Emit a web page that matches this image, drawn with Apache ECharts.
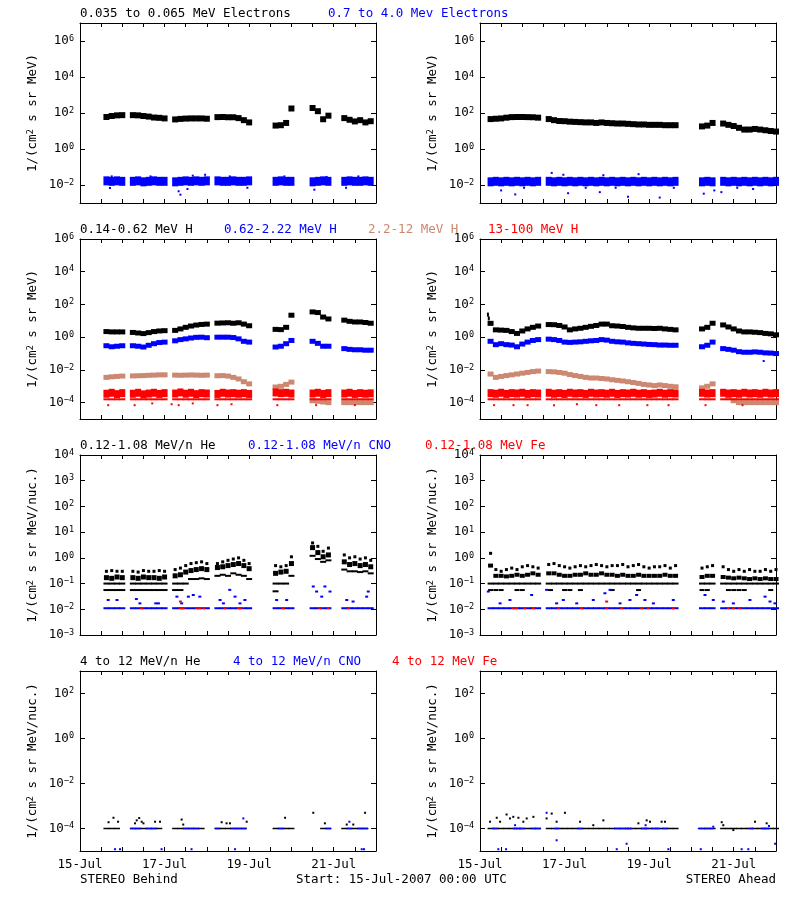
<!DOCTYPE html>
<html><head><meta charset="utf-8">
<script src="https://cdn.jsdelivr.net/npm/echarts@6/dist/echarts.min.js"></script>
<style>html,body{margin:0;padding:0;background:#fff}#c{width:800px;height:900px}</style>
</head><body><div id="c"></div><script>
const _ = null;
const f3 = 0.011;   // CNO one-count floor, row 3
const f4 = 0.0001;  // one-count floor, row 4

// time grid (hours since 15-Jul-2007 00:00), 3-hour samples
const hours = [0,3,6,9,12,15,18,21,24,27,30,33,36,39,42,45,48,51,54,57,60,63,66,69,72,75,78,81,84,87,90,93,96,99,102,105,108,111,114,117,120,123,126,129,132,135,138,141,144,147,150,153,156,159,162,165,168];

// x tick labels
const xLabelHours = [0,48,96,144];
const xLabelText = ['15-Jul','17-Jul','19-Jul','21-Jul'];

// y ranges and labelled decades per row
const yMin = [1e-3, 1e-5, 1e-3, 1e-5];
const yMax = [1e7, 1e6, 1e4, 1e3];
const yTickVals = [
  [1e-2,1,1e2,1e4,1e6],
  [1e-4,1e-2,1,1e2,1e4,1e6],
  [1e-3,1e-2,1e-1,1,10,100,1e3,1e4],
  [1e-4,1e-2,1,1e2]
];

// panel titles
const titleTexts = [
  ['0.035 to 0.065 MeV Electrons','0.7 to 4.0 Mev Electrons'],
  ['0.14-0.62 MeV H','0.62-2.22 MeV H','2.2-12 MeV H','13-100 MeV H'],
  ['0.12-1.08 MeV/n He','0.12-1.08 MeV/n CNO','0.12-1.08 MeV Fe'],
  ['4 to 12 MeV/n He','4 to 12 MeV/n CNO','4 to 12 MeV Fe']
];
const yTitleTexts = ['1/(cm{s|2} s sr MeV)','1/(cm{s|2} s sr MeV)','1/(cm{s|2} s sr MeV/nuc.)','1/(cm{s|2} s sr MeV/nuc.)'];
const footLeft = 'STEREO Behind', footMid = 'Start: 15-Jul-2007 00:00 UTC', footRight = 'STEREO Ahead';

// ---------- ROW 1: electrons ----------
const eLoB = [_,_,_,_,_,60,68,74,76,_, 76,74,68,63,56,54,50,_,44,47, 49,50,50,50,48,_,59,60,58,58, 52,40,30,_,_,_,_,20,21,28, 178,_,_,_,190,126,45,71,_,_, 52,42,34,40,30,35,_];
const eHiB = [_,_,_,_,_,0.017,0.016,0.017,0.016,_, 0.016,0.017,0.015,0.016,0.017,0.016,0.016,_,0.015,0.016, 0.017,0.016,0.017,0.016,0.017,_,0.017,0.016,0.016,0.017, 0.016,0.016,0.017,_,_,_,_,0.016,0.017,0.016, 0.016,_,_,_,0.015,0.016,0.017,0.016,_,_, 0.016,0.017,0.016,0.016,0.017,0.016,_];
const eHiBOut = [[17,0.0068],[56,0.0045],[57,0.0029],[61,0.006],[95,0.007],[133,0.0055],[151,0.007],[71,0.037],[18,0.03],[40,0.03],[64,0.033],[85,0.03],[116,0.03],[140,0.028],[158,0.03]];
const eLoA = [_,_,46,48,50,55,59,60,60,59, 58,55,_,46,40,36,35,33,32,31, 30,30,28,30,28,27,26,26,25,24, 23,23,22,22,22,21,21,21,_,_, _,_,18,20,28,_,26,22,19,15, 12,12,13,12,11,10,9.3];
const eHiA = [_,_,0.015,0.016,0.015,0.016,0.015,0.016,0.015,0.016, 0.015,0.016,_,0.016,0.015,0.016,0.015,0.016,0.015,0.016, 0.015,0.016,0.015,0.016,0.015,0.016,0.015,0.016,0.015,0.016, 0.015,0.016,0.015,0.016,0.015,0.016,0.015,0.016,_,_, _,_,0.015,0.016,0.015,_,0.016,0.015,0.016,0.015, 0.016,0.015,0.016,0.015,0.016,0.015,0.016];
const eHiAOut = [[12,0.005],[20,0.003],[50,0.0035],[68,0.004],[84,0.0022],[102,0.002],[127,0.0033],[133,0.005],[137,0.004],[155,0.006],[40.7,0.047],[47.3,0.037],[70,0.035],[90,0.04],[25,0.007],[60,0.007],[77,0.007],[110,0.007],[146,0.007]];

// ---------- ROW 2: protons ----------
const hLoB = [_,_,_,_,_,2.2,2.1,2.1,2.1,_, 1.95,1.8,1.66,1.9,2.2,2.4,2.5,_,2.6,3.2, 4.0,4.8,5.5,6.0,6.3,_,7.2,7.4,7.6,7.1, 7.6,6.3,5.0,_,_,_,_,3.0,2.9,4.0, 22,_,_,_,35,32,17,13,_,_, 11,9.3,8.5,8.5,7.9,7.1,_];
const hMidB = [_,_,_,_,_,0.30,0.26,0.28,0.30,_, 0.30,0.28,0.25,0.32,0.40,0.47,0.50,_,0.60,0.71, 0.79,0.89,0.98,1.0,0.93,_,1.0,1.0,1.0,0.95, 0.79,0.56,0.50,_,_,_,_,0.25,0.28,0.40, 0.63,_,_,_,0.56,0.42,0.28,0.28,_,_, 0.20,0.18,0.17,0.17,0.16,0.16,_];
const hHiB = [_,_,_,_,_,0.0035,0.0038,0.0040,0.0042,_, 0.0043,0.0044,0.0045,0.0047,0.0048,0.0050,0.0050,_,0.0048,0.0047, 0.0048,0.0049,0.0048,0.0047,0.0048,_,0.0044,0.0045,0.0042,0.0035, 0.0028,0.0019,0.0014,_,_,_,_,0.0009,0.0010,0.0013, 0.0018,_,_,_,0.00013,0.00012,0.00011,0.0001,_,_, 0.0001,0.0001,0.0001,0.0001,0.0001,0.0001,_];
const hTopB = [_,_,_,_,_,0.00035,0.0004,0.00033,0.00038,_, 0.00035,0.0004,0.00032,0.00036,0.0004,0.00034,0.00038,_,0.00036,0.00042, 0.00035,0.0004,0.00033,0.00038,0.00036,_,0.00034,0.0004,0.00036,0.00038, 0.00035,0.00038,0.00034,_,_,_,_,0.00042,0.00038,0.0004, 0.00036,_,_,_,0.00036,0.0004,0.00034,0.00038,_,_, 0.00036,0.0004,0.00034,0.00038,0.00035,0.00037,_];
const hTopB2 = [_,_,_,_,_,0.00016,0.00016,0.00016,0.00016,_, 0.00016,0.00016,0.00016,0.00016,0.00016,0.00016,0.00016,_,0.00016,0.00016, 0.00016,0.00016,0.00016,0.00016,0.00016,_,0.00016,0.00016,0.00016,0.00016, 0.00016,0.00016,0.00016,_,_,_,_,0.00016,0.00016,0.00016, 0.00016,_,_,_,0.00016,0.00016,0.00016,0.00016,_,_, 0.00016,0.00016,0.00016,0.00016,0.00016,0.00016,_];
const hTopBOut = [[16,7e-5],[31,7e-5],[41,9e-5],[52,8e-5],[56,7e-5],[64,9e-5],[78,7e-5],[86,8e-5],[112,7e-5],[134,7e-5],[156,7e-5]];

const hLoA = [_,_,7.0,2.8,2.7,2.6,2.2,1.7,2.4,3.2, 4.0,4.8,_,5.9,5.8,5.2,4.2,2.8,3.2,3.5, 4.0,4.6,5.2,6.3,6.3,5.0,4.8,4.5,4.0,3.7, 3.5,3.5,3.5,3.4,3.5,3.2,3.0,2.8,_,_, _,_,3.2,4.0,7.1,_,5.6,4.2,3.2,2.4, 2.1,2.1,2.0,1.9,1.7,1.6,1.4];
const hLoAOut = [[4.5,24],[5,14]];
const hMidA = [_,_,0.56,0.35,0.40,0.35,0.33,0.26,0.38,0.50, 0.63,0.71,_,0.76,0.71,0.63,0.50,0.48,0.50,0.52, 0.56,0.60,0.63,0.71,0.66,0.56,0.52,0.50,0.45,0.42, 0.40,0.38,0.36,0.35,0.33,0.33,0.32,0.32,_,_, _,_,0.26,0.32,0.50,_,0.20,0.18,0.16,0.13, 0.12,0.12,0.126,0.12,0.11,0.107,0.10];
const hMidAOut = [[161,0.035]];
const hHiA = [_,_,0.0056,0.0035,0.0040,0.0045,0.0050,0.0056,0.0063,0.0070, 0.0079,0.0085,_,0.0079,0.0076,0.0070,0.0063,0.0052,0.0045,0.0040, 0.0035,0.0032,0.0032,0.0030,0.0028,0.0025,0.0023,0.0021,0.0019,0.0017, 0.0015,0.0013,0.0012,0.0011,0.0012,0.0011,0.0010,0.00093,_,_, _,_,0.0008,0.0010,0.0014,_,0.00045,0.00025,0.00013,0.0001, 0.0001,0.0001,0.0001,0.0001,0.0001,0.0001,0.0001];
const hTopA = [_,_,0.00038,0.00035,0.0004,0.00034,0.00038,0.00036,0.0004,0.00034, 0.00038,0.00036,_,0.0004,0.00035,0.00038,0.00034,0.0004,0.00036,0.00038, 0.00034,0.0004,0.00036,0.00038,0.00035,0.0004,0.00034,0.00038,0.00036,0.0004, 0.00035,0.00038,0.00034,0.00036,0.0004,0.00035,0.00038,0.00036,_,_, _,_,0.0004,0.00036,0.00038,_,0.0004,0.00036,0.00038,0.00035, 0.0004,0.00036,0.00038,0.00035,0.0004,0.00036,0.00038];
const hTopA2 = [_,_,0.00016,0.00016,0.00016,0.00016,0.00016,0.00016,0.00016,0.00016, 0.00016,0.00016,_,0.00016,0.00016,0.00016,0.00016,0.00016,0.00016,0.00016, 0.00016,0.00016,0.00016,0.00016,0.00016,0.00016,0.00016,0.00016,0.00016,0.00016, 0.00016,0.00016,0.00016,0.00016,0.00016,0.00016,0.00016,0.00016,_,_, _,_,0.00016,0.00016,0.00016,_,0.00016,0.00016,0.00016,0.00016, 0.00016,0.00016,0.00016,0.00016,0.00016,0.00016,0.00016];
const hTopAOut = [[8,7e-5],[19,7e-5],[27,7e-5],[42,7e-5],[55,8e-5],[66,7e-5],[79,7e-5],[95,7e-5],[107,7e-5],[128,7e-5],[149,7e-5]];

// ---------- ROW 3: suprathermal ions ----------
const heBHi = [_,_,_,_,_,0.30,0.32,0.30,0.30,_, 0.30,0.28,0.32,0.30,0.30,0.32,0.30,_,0.35,0.40, 0.50,0.60,0.65,0.70,0.60,_,0.60,0.70,0.80,0.90, 1.00,0.80,0.60,_,_,_,_,0.50,0.45,0.50, 1.10,_,_,_,3.8,2.8,1.8,2.4,_,_, 1.30,1.00,1.10,0.90,1.00,0.80,_];
const heBMid = [_,_,_,_,_,0.17,0.16,0.18,0.17,_, 0.17,0.16,0.18,0.17,0.17,0.16,0.18,_,0.20,0.22, 0.28,0.32,0.35,0.38,0.35,_,0.42,0.45,0.50,0.55, 0.60,0.50,0.38,_,_,_,_,0.25,0.28,0.30, 0.60,_,_,_,2.5,1.6,1.1,1.3,_,_, 0.70,0.55,0.60,0.50,0.55,0.45,_];
const heBLo = [_,_,_,_,_,0.10,0.10,0.10,0.10,_, 0.10,0.10,0.10,0.10,0.10,0.10,0.10,_,0.10,0.10, 0.10,0.15,0.15,0.16,0.15,_,0.20,0.22,0.20,0.25, 0.22,0.20,0.15,_,_,_,_,0.10,0.10,0.10, 0.20,_,_,_,1.2,0.9,0.7,0.8,_,_, 0.35,0.30,0.30,0.28,0.30,0.25,_];
const heBLo2 = [_,_,_,_,_,0.056,0.056,0.056,0.056,_, 0.056,0.056,0.056,0.056,0.056,0.056,0.056,_,0.056,0.056, _,_,_,_,_,_,_,_,_,_, _,_,_,_,_,_,_,0.05,_,_, _,_,_,_,_,_,_,_,_,_, _,_,_,_,_,_,_];
const cnoBFloor = [_,_,_,_,_,f3,f3,f3,f3,_, f3,f3,f3,f3,f3,f3,f3,_,f3,f3, f3,f3,f3,f3,f3,_,f3,f3,f3,f3, f3,f3,f3,_,_,_,_,f3,f3,f3, f3,_,_,_,f3,f3,f3,f3,_,_, f3,f3,f3,f3,f3,f3,_];
const cnoBUp = [[16,0.023],[21,0.023],[32,0.025],[34,0.017],[43,0.017],[44.5,0.017],[55,0.031],[57.7,0.017],[61.5,0.031],[64.3,0.036],[68,0.031],[79.5,0.023],[81.4,0.017],[85,0.057],[88,0.031],[90.8,0.017],[93.6,0.023],[111.6,0.023],[117.3,0.023],[132.4,0.077],[134.3,0.049],[137.2,0.031],[139,0.077],[141.9,0.049],[151.4,0.023],[155,0.02],[162.7,0.031],[163.6,0.049]];
const feB = [[35,f3],[56.8,f3],[58.6,f3],[66.2,f3],[68,f3],[70.4,f3],[82.3,f3],[89.9,f3],[91.2,f3],[115.4,f3],[136.2,f3],[141,f3],[152.3,f3],[57,0.02]];

const heAHi = [_,_,1.5,0.35,0.30,0.35,0.40,0.35,0.45,0.50, 0.45,0.40,_,0.55,0.60,0.50,0.45,0.40,0.45,0.50, 0.45,0.50,0.55,0.50,0.45,0.50,0.50,0.55,0.45,0.50, 0.55,0.45,0.40,0.45,0.45,0.50,0.40,0.50,_,_, _,_,0.40,0.45,0.50,_,0.45,0.35,0.30,0.35, 0.30,0.35,0.30,0.30,0.35,0.30,0.35];
const heAMid = [_,_,0.50,0.20,0.20,0.19,0.20,0.22,0.20,0.22, 0.25,0.22,_,0.25,0.25,0.22,0.20,0.20,0.22,0.22, 0.25,0.22,0.22,0.25,0.22,0.22,0.20,0.22,0.20,0.20, 0.22,0.20,0.20,0.20,0.20,0.22,0.20,0.20,_,_, _,_,0.18,0.20,0.20,_,0.18,0.17,0.16,0.17, 0.16,0.15,0.16,0.15,0.16,0.15,0.15];
const heALo = [_,_,0.1,0.1,0.1,0.1,0.1,0.1,0.1,0.1, 0.1,0.1,_,0.1,0.1,0.1,0.1,0.1,0.1,0.1, 0.1,0.1,0.1,0.1,0.1,0.1,0.1,0.1,0.1,0.1, 0.1,0.1,0.1,0.1,0.1,0.1,0.1,0.1,_,_, _,_,0.1,0.1,0.1,_,0.1,0.1,0.1,0.1, 0.1,0.1,0.1,0.1,0.1,0.1,0.1];
const heALo2 = [[6,0.056],[9,0.056],[12,0.056],[21,0.056],[24,0.056],[40,0.056],[48,0.056],[51,0.056],[57,0.056],[75,0.056],[90,0.056],[126,0.056],[129,0.056],[141,0.056],[144,0.056],[147,0.056],[150,0.056],[165,0.056]];
const cnoAFloor = [_,_,f3,f3,f3,f3,f3,f3,f3,f3, f3,f3,_,f3,f3,f3,f3,f3,f3,f3, f3,f3,f3,f3,f3,f3,f3,f3,f3,f3, f3,f3,f3,f3,f3,f3,f3,f3,_,_, _,_,f3,f3,f3,_,f3,f3,f3,f3, f3,f3,f3,f3,f3,f3,f3];
const cnoAUp = [[4.7,0.049],[11.4,0.017],[17,0.023],[29.3,0.036],[37.8,0.057],[43.5,0.017],[47.3,0.023],[54.9,0.017],[64.3,0.023],[70.9,0.042],[73.8,0.057],[79.5,0.017],[85.1,0.023],[88.9,0.036],[93.6,0.023],[98.4,0.017],[109.7,0.023],[127.7,0.036],[132.4,0.023],[138.1,0.02],[143.8,0.017],[153.2,0.023],[161.8,0.031],[164.6,0.02],[167.4,0.017]];
const feA = [[18.9,f3],[20.8,f3],[25.5,f3],[30.3,f3],[44.5,f3],[57.7,f3],[71.9,f3],[80.4,f3],[91.8,f3],[95.5,f3],[109.7,f3],[141,f3],[143.8,f3],[147.6,f3],[71.9,0.02]];

// ---------- ROW 4: energetic ions ----------
const he4B = [_,_,_,_,_,f4,f4,f4,_,_, f4,f4,f4,f4,f4,f4,_,_,f4,f4, f4,f4,f4,f4,_,_,f4,f4,f4,f4, f4,f4,_,_,_,_,_,f4,f4,f4, f4,_,_,_,_,_,f4,f4,_,_, f4,f4,f4,f4,f4,_,_];
const he4BUp = [[16.2,0.00019],[19,0.0003],[21.6,0.0002],[31.2,0.00017],[32.2,0.00023],[33.6,0.00029],[35,0.0002],[36,0.00017],[42.6,0.0002],[45.4,0.0002],[57.7,0.00025],[58.6,0.00015],[80.4,0.00019],[83.2,0.00017],[85.1,0.00017],[94.6,0.0002],[116.4,0.0003],[132.4,0.0005],[139,0.00017],[151.4,0.00015],[155.1,0.00015],[161.8,0.0005]];
const cno4B = [[30,f4],[33,f4],[39,f4],[42,f4],[60,f4],[63,f4],[66,f4],[78,f4],[87,f4],[90,f4],[93,f4],[114,f4],[141,f4],[153,f4],[159,f4],[162,f4]];
const cno4BOut = [[19.9,1.2e-5],[22.7,1.2e-5],[46.3,1.2e-5],[63.3,1.2e-5],[88,1.2e-5],[159.9,1.2e-5],[161.2,1.2e-5],[92.7,0.00028],[152.9,0.0002]];
const he4A = [_,_,f4,f4,f4,f4,f4,f4,f4,f4, f4,f4,_,f4,f4,f4,f4,f4,f4,f4, f4,f4,f4,f4,f4,f4,f4,f4,f4,f4, f4,f4,f4,f4,f4,f4,f4,f4,_,_, _,_,f4,f4,f4,_,f4,f4,f4,f4, f4,f4,f4,f4,f4,f4,f4];
const he4AUp = [[5.7,0.0002],[9.5,0.0003],[11.4,0.0002],[15.1,0.00042],[17,0.00028],[18.9,0.00033],[21.8,0.0003],[24.6,0.0002],[26.5,0.00028],[30.3,0.00033],[37.8,0.00028],[40.7,0.00046],[43.5,0.0002],[48.2,0.0005],[56.8,0.0002],[64.3,0.00014],[70,0.00023],[89.9,0.00017],[94.6,0.00023],[96.5,0.0002],[103.1,0.0002],[105,0.0002],[137.2,0.00019],[138.1,0.00014],[143.8,8.5e-5],[156.1,0.0002],[162.7,0.00017]];
const cno4A = [[8.5,f4],[19.9,f4],[21.8,f4],[24,f4],[30.3,f4],[33,f4],[43.5,f4],[56.8,f4],[77.6,f4],[80.4,f4],[83.2,f4],[85,f4],[92.7,f4],[94.6,f4],[98.4,f4],[101,f4],[105,f4],[125,f4],[128,f4],[131,f4],[154,f4],[160.8,f4],[162.7,f4]];
const cno4AOut = [[37.8,0.0005],[19.9,0.00014],[94,0.00014],[132.4,0.00012],[164,0.00013],[10.4,1.2e-5],[14.8,1.2e-5],[43.5,3e-5],[77.6,1.2e-5],[83.2,2.1e-5],[106.9,1.2e-5],[125.3,1.2e-5],[148.5,1.2e-5],[152.3,1.2e-5],[167.5,2.1e-5]];

// ================= rendering =================
const FONT = 'DejaVu Sans Mono';
const FS = 12.5;
const BLACK = '#000000', BLUE = '#0000ff', BROWN = '#cc8870', RED = '#ff0000';

const grids = [], xAxes = [], yAxes = [], series = [];
const supFmt = v => { const e = Math.round(Math.log10(v)); return '{b|10}{s|' + (e < 0 ? '\u2212' + (-e) : e) + '}'; };
for (let r = 0; r < 4; r++) {
  for (let c = 0; c < 2; c++) {
    const g = r * 2 + c;
    grids.push({left: 80 + 400 * c, top: 23 + 216 * r, width: 296, height: 180, containLabel: false});
    const axLine = {show: true, onZero: false, lineStyle: {color: '#000', width: 1}};
    xAxes.push({type: 'value', gridIndex: g, position: 'bottom', min: 0, max: 168, interval: 12,
      axisLine: axLine, splitLine: {show: false},
      axisTick: {show: true, inside: true, length: 4, lineStyle: {color: '#000'}},
      axisLabel: {show: r === 3, customValues: xLabelHours, margin: 7, color: '#000', fontFamily: FONT, fontSize: FS,
        formatter: v => xLabelText[xLabelHours.indexOf(Math.round(v))] || ''}});
    xAxes.push({type: 'value', gridIndex: g, position: 'top', min: 0, max: 168, interval: 12,
      axisLine: axLine, splitLine: {show: false},
      axisTick: {show: true, inside: true, length: 4, lineStyle: {color: '#000'}},
      axisLabel: {show: false}});
    const yBase = {type: 'log', logBase: 10, gridIndex: g, min: yMin[r], max: yMax[r],
      axisLine: axLine, splitLine: {show: false}, minorTick: {show: false}};
    yAxes.push(Object.assign({}, yBase, {position: 'left',
      axisTick: {show: true, inside: true, length: 5, customValues: yTickVals[r], lineStyle: {color: '#000'}},
      axisLabel: {show: true, customValues: yTickVals[r], margin: 6, formatter: supFmt,
        rich: {b: {fontFamily: FONT, fontSize: FS, color: '#000', lineHeight: 16, verticalAlign: 'middle'},
               s: {fontFamily: FONT, fontSize: 8.5, color: '#000', lineHeight: 10, verticalAlign: 'top', padding: [1, 0, 0, 0]}}}}));
    yAxes.push(Object.assign({}, yBase, {position: 'right',
      axisTick: {show: true, inside: true, length: 5, customValues: yTickVals[r], lineStyle: {color: '#000'}},
      axisLabel: {show: false}}));
  }
}
const toPts = a => { const o = []; a.forEach((v, i) => { if (v != null) o.push([hours[i], v]); }); return o; };
function add(g, data, color, size) {
  series.push({type: 'scatter', xAxisIndex: g * 2, yAxisIndex: g * 2, data: data, symbol: 'rect',
    symbolSize: size, itemStyle: {color: color, opacity: 1}, emphasis: {disabled: true},
    silent: true, clip: true, animation: false});
}
// row 1
add(0, toPts(eLoB), BLACK, [6, 6]);
add(0, toPts(eHiB), BLUE, [6, 9]);
add(0, eHiBOut, BLUE, [2, 2]);
add(1, toPts(eLoA), BLACK, [6, 6]);
add(1, toPts(eHiA), BLUE, [6, 9]);
add(1, eHiAOut, BLUE, [2, 2]);
// row 2
add(2, toPts(hLoB), BLACK, [6, 5]);
add(2, toPts(hMidB), BLUE, [6, 5]);
add(2, toPts(hHiB), BROWN, [6, 5]);
add(2, toPts(hTopB), RED, [6, 8]);
add(2, toPts(hTopB2), RED, [6, 2]);
add(2, hTopBOut, RED, [2, 2]);
add(3, toPts(hLoA), BLACK, [6, 5]);
add(3, hLoAOut, BLACK, [2, 4]);
add(3, toPts(hMidA), BLUE, [6, 5]);
add(3, hMidAOut, BLUE, [2, 2]);
add(3, toPts(hHiA), BROWN, [6, 5]);
add(3, toPts(hTopA), RED, [6, 8]);
add(3, toPts(hTopA2), RED, [6, 2]);
add(3, hTopAOut, RED, [2, 2]);
// row 3
add(4, toPts(heBHi), BLACK, [3, 3]);
add(4, toPts(heBMid), BLACK, [5, 5]);
add(4, toPts(heBLo), BLACK, [6, 2]);
add(4, toPts(heBLo2), BLACK, [6, 2]);
add(4, toPts(cnoBFloor), BLUE, [6, 2]);
add(4, cnoBUp, BLUE, [3, 2]);
add(4, feB, RED, [3, 2]);
add(5, toPts(heAHi), BLACK, [3, 3]);
add(5, toPts(heAMid), BLACK, [5, 4]);
add(5, toPts(heALo), BLACK, [6, 2]);
add(5, heALo2, BLACK, [5, 2]);
add(5, toPts(cnoAFloor), BLUE, [6, 2]);
add(5, cnoAUp, BLUE, [3, 2]);
add(5, feA, RED, [3, 2]);
// row 4
add(6, toPts(he4B), BLACK, [6, 1.5]);
add(6, he4BUp, BLACK, [2, 2]);
add(6, cno4B, BLUE, [5, 1.5]);
add(6, cno4BOut, BLUE, [2, 2]);
add(7, toPts(he4A), BLACK, [6, 1.5]);
add(7, he4AUp, BLACK, [2, 2]);
add(7, cno4A, BLUE, [5, 1.5]);
add(7, cno4AOut, BLUE, [2, 2]);

// text
const rowColors = [[BLACK, BLUE], [BLACK, BLUE, BROWN, RED], [BLACK, BLUE, RED], [BLACK, BLUE, RED]];
const titleX = [[80, 328], [80, 224, 368, 488], [80, 248, 425], [80, 233, 392]];
const graphic = [];
titleTexts.forEach((row, r) => row.forEach((t, k) => {
  graphic.push({type: 'text', x: titleX[r][k], y: 13.5 + 216 * r, silent: true,
    style: {text: t, fill: rowColors[r][k], fontFamily: FONT, fontSize: FS, align: 'left', verticalAlign: 'middle'}});
}));
for (let r = 0; r < 4; r++) for (let c = 0; c < 2; c++) {
  graphic.push({type: 'text', x: 33 + 400 * c, y: 113 + 216 * r, rotation: Math.PI / 2, silent: true,
    style: {text: yTitleTexts[r], fill: '#000', fontFamily: FONT, fontSize: FS, align: 'center', verticalAlign: 'middle',
      rich: {s: {fontFamily: FONT, fontSize: 8.5, fill: '#000', verticalAlign: 'top', lineHeight: 10}}}});
}
graphic.push({type: 'text', x: 80, y: 880, silent: true, style: {text: footLeft, fill: '#000', fontFamily: FONT, fontSize: FS, align: 'left', verticalAlign: 'middle'}});
graphic.push({type: 'text', x: 296, y: 880, silent: true, style: {text: footMid, fill: '#000', fontFamily: FONT, fontSize: FS, align: 'left', verticalAlign: 'middle'}});
graphic.push({type: 'text', x: 776, y: 880, silent: true, style: {text: footRight, fill: '#000', fontFamily: FONT, fontSize: FS, align: 'right', verticalAlign: 'middle'}});

const chart = echarts.init(document.getElementById('c'), null, {renderer: 'canvas'});
chart.setOption({backgroundColor: '#fff', animation: false, textStyle: {fontFamily: FONT},
  grid: grids, xAxis: xAxes, yAxis: yAxes, series: series, graphic: graphic});
</script></body></html>
